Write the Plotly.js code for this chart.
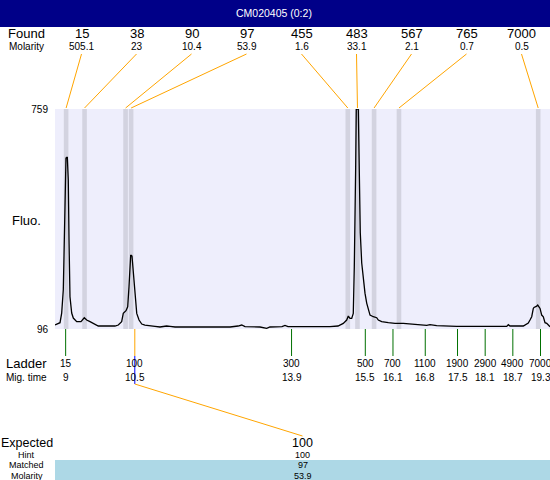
<!DOCTYPE html>
<html><head><meta charset="utf-8">
<script src="https://cdn.plot.ly/plotly-3.0.1.min.js"></script>
<style>html,body{margin:0;padding:0;background:#fff}#chart{width:550px;height:480px}</style>
</head><body><div id="chart"></div>
<script>
// ---------- data ----------
const chartTitle = 'CM020405 (0:2)';
const foundSizes = [15, 38, 90, 97, 455, 483, 567, 765, 7000];
const foundMolarity = [505.1, 23, 10.4, 53.9, 1.6, 33.1, 2.1, 0.7, 0.5];
const foundTimes = [9.01, 9.41, 10.30, 10.42, 15.12, 15.33, 15.69, 16.23, 19.25];
const ladderSizes = [15, 100, 300, 500, 700, 1100, 1900, 2900, 4900, 7000];
const ladderTimes = [9, 10.5, 13.9, 15.5, 16.1, 16.8, 17.5, 18.1, 18.7, 19.3];
const matchedLadder = 100;
const expectedSizes = [100];
const hintSizes = [100];
const matchedSizes = [97];
const matchedMolarity = [53.9];
const yTicks = [96, 759];
const traceTime = [8.769,8.878,8.914,8.949,8.986,9.007,9.036,9.057,9.073,9.094,9.131,9.166,9.240,9.333,9.404,9.456,9.528,9.636,9.708,10.070,10.142,10.215,10.250,10.309,10.346,10.374,10.411,10.439,10.468,10.505,10.542,10.592,10.651,10.719,10.829,10.937,11.046,11.190,11.264,11.373,11.916,12.567,12.739,12.819,12.891,13.216,13.361,13.432,13.693,13.758,13.823,14.300,14.734,14.907,14.951,15.022,15.096,15.131,15.168,15.205,15.239,15.261,15.291,15.304,15.348,15.363,15.391,15.422,15.456,15.493,15.530,15.565,15.602,15.673,15.747,15.782,15.855,15.999,16.144,16.324,16.469,16.615,16.832,16.903,17.048,17.482,18.059,18.567,18.602,18.638,18.927,19.001,19.035,19.072,19.109,19.144,19.159,19.218,19.240,19.290,19.326,19.361,19.398,19.435,19.469,19.506];
const traceFluo = [108,115,144,214,465,611,614,545,364,193,144,129,118,118,130,123,118,111,105,105,108,118,143,151,163,223,319,316,264,183,143,123,111,108,105,104,102,105,104,102,102,102,105,108,103,102,98,102,103,107,103,102,103,105,108,113,123,135,128,128,143,284,585,759,759,585,385,295,244,204,174,153,138,133,130,123,118,115,113,113,111,109,107,109,106,104,103,104,109,105,105,111,114,123,133,158,161,165,168,158,138,133,115,113,108,103];

// ---------- layout helpers ----------
const W = 550, H = 480;
const PL = 55, PT = 109, PB = 329;
const FONT = 'Liberation Sans, Arial, sans-serif';
const px = x => x / W;
const py = y => 1 - y / H;
const slotX = i => 81.5 + 55 * i;
const labelX = 26.5;

const ann = [];
function txt(text, x, y, size, opts) {
  ann.push(Object.assign({text: String(text), x: x, y: y, xref: 'paper', yref: 'paper',
    xanchor: 'center', yanchor: 'middle', showarrow: false, borderpad: 0,
    font: {family: FONT, size: size, color: '#000'}}, opts || {}));
}
// title
txt(chartTitle, px(274), py(13.5), 10.5, {font: {family: FONT, size: 10.5, color: '#fff'}});
// found rows
txt('Found', px(labelX), py(34), 13);
txt('Molarity', px(labelX), py(46.5), 10);
foundSizes.forEach((s, i) => {
  txt(s, px(slotX(i)), py(34), 13);
  txt(foundMolarity[i], px(slotX(i)), py(46.5), 10);
});
txt('Fluo.', px(labelX), py(220.5), 13);
// ladder rows
txt('Ladder', px(labelX), py(363), 13);
txt('Mig. time', px(labelX), py(377), 10);
ladderSizes.forEach((s, i) => {
  txt(s, ladderTimes[i], py(363), 10, {xref: 'x'});
  txt(ladderTimes[i], ladderTimes[i], py(377), 10, {xref: 'x'});
});
// expected block
const expX = px((PL + W) / 2);
txt('Expected', px(labelX), py(442.5), 12.5);
txt('Hint', px(labelX), py(455), 9);
txt('Matched', px(labelX), py(465.3), 9);
txt('Molarity', px(labelX), py(475.6), 9);
expectedSizes.forEach((s, i) => {
  txt(s, expX, py(442.5), 12.5);
  txt(hintSizes[i], expX, py(455), 9);
  txt(matchedSizes[i], expX, py(465.3), 9);
  txt(matchedMolarity[i], expX, py(475.6), 9);
});

const shapes = [];
// title bar
shapes.push({type: 'rect', xref: 'paper', yref: 'paper', x0: 0, x1: 1, y0: py(27), y1: 1,
  fillcolor: '#000088', line: {width: 0}, layer: 'below'});
// matched band
shapes.push({type: 'rect', xref: 'paper', yref: 'paper', x0: px(PL), x1: 1, y0: 0, y1: py(460),
  fillcolor: '#add8e6', line: {width: 0}, layer: 'below'});
// found peak bands
foundTimes.forEach(t => {
  shapes.push({type: 'rect', xref: 'x', yref: 'y domain', x0: t - 0.05, x1: t + 0.05, y0: 0, y1: 1,
    fillcolor: '#d3d3e0', line: {width: 0}, layer: 'below'});
});
// ladder ticks
ladderSizes.forEach((s, i) => {
  const matched = s === matchedLadder;
  shapes.push({type: 'line', xref: 'x', yref: 'paper', x0: ladderTimes[i], x1: ladderTimes[i],
    y0: py(PB), y1: py(356), line: {color: matched ? '#ffa500' : '#007000', width: 1}});
  if (matched) {
    shapes.push({type: 'line', xref: 'x', yref: 'paper', x0: ladderTimes[i], x1: ladderTimes[i],
      y0: py(356), y1: py(384), line: {color: '#0000ff', width: 1}});
  }
});

const data = [{
  x: traceTime, y: traceFluo, type: 'scatter', mode: 'lines',
  line: {color: '#000', width: 1.3}, hoverinfo: 'skip', cliponaxis: true
}];

const layout = {
  width: W, height: H,
  margin: {l: 0, r: 0, t: 0, b: 0, pad: 0},
  paper_bgcolor: '#fff', plot_bgcolor: '#eeeefc',
  showlegend: false,
  font: {family: FONT, size: 10, color: '#000'},
  xaxis: {domain: [px(PL), 1], range: [8.769, 19.506], showgrid: false, zeroline: false,
    showline: false, showticklabels: false, ticks: '', fixedrange: true},
  yaxis: {domain: [py(PB), py(PT)], range: [96, 759], tickvals: yTicks, ticktext: yTicks.map(String),
    showgrid: false, zeroline: false, showline: false, ticks: '', ticklabelstandoff: 6,
    tickfont: {family: FONT, size: 10, color: '#000'}, fixedrange: true},
  shapes: shapes,
  annotations: ann
};

Plotly.newPlot('chart', data, layout, {staticPlot: true, displayModeBar: false}).then(gd => {
  const xa = gd._fullLayout.xaxis;
  const tx = t => (xa._offset + xa.c2p(t)) / W;
  const extra = [];
  foundTimes.forEach((t, i) => {
    extra.push({type: 'line', xref: 'paper', yref: 'paper', x0: px(slotX(i)), y0: py(54),
      x1: tx(t), y1: py(PT - 1), line: {color: '#ffa500', width: 1}});
  });
  const mi = ladderSizes.indexOf(matchedLadder);
  extra.push({type: 'line', xref: 'paper', yref: 'paper', x0: tx(ladderTimes[mi]), y0: py(384),
    x1: expX, y1: py(436), line: {color: '#ffa500', width: 1}});
  return Plotly.relayout(gd, {shapes: shapes.concat(extra)});
});
</script>
</body></html>
